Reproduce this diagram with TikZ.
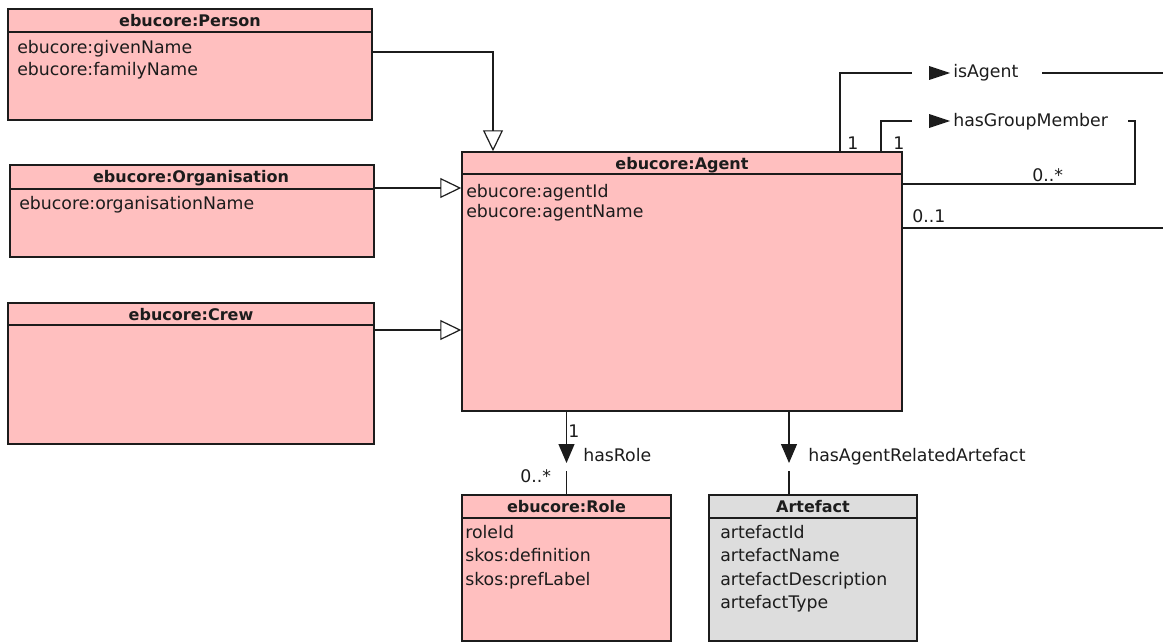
\documentclass[tikz,border=0pt]{standalone}
\usepackage{fontspec}
\newfontfamily\umlfont{DejaVu Sans}
\usetikzlibrary{arrows.meta,fit,calc}
\definecolor{clspink}{RGB}{255,191,191}
\definecolor{clsgray}{RGB}{221,221,221}
\definecolor{ink}{RGB}{28,28,28}
\begin{document}
\begin{tikzpicture}[x=0.75pt,y=-0.75pt,
  cls/.style={draw=ink, line width=1.1pt, fill=clspink, inner sep=0pt, rectangle},
  artcls/.style={cls, fill=clsgray},
  rule/.style={draw=ink, line width=1.1pt},
  title/.style={font=\umlfont\bfseries\fontsize{12}{14}\selectfont, anchor=base, inner sep=0pt, text=ink},
  attr/.style={font=\umlfont\fontsize{13}{15}\selectfont, anchor=base west, inner sep=0pt, text=ink},
  lbl/.style={attr},
  assoc/.style={draw=ink, line width=0.9pt},
  gen/.style={assoc, -{Triangle[open, length=15.75pt, width=15pt]}},
  nav/.style={assoc, -{Triangle[length=14.25pt, width=12pt]}}
]
\useasboundingbox (0,0) rectangle (1163,642);

% ---- class boxes ----
\node[cls, fit={(8,9) (372,120)}] (person) {};
\node[cls, fit={(10,165) (374,257)}] (org) {};
\node[cls, fit={(8,303) (374,444)}] (crew) {};
\node[cls, fit={(462,152) (902,411)}] (agent) {};
\node[cls, fit={(462,495) (671,641)}] (role) {};
\node[artcls, fit={(709,495) (917,641)}] (artefact) {};

% ---- header separators ----
\draw[rule] (person.west |- 0,32) -- (person.east |- 0,32);
\draw[rule] (org.west |- 0,189) -- (org.east |- 0,189);
\draw[rule] (crew.west |- 0,325) -- (crew.east |- 0,325);
\draw[rule] (agent.west |- 0,174) -- (agent.east |- 0,174);
\draw[rule] (role.west |- 0,518) -- (role.east |- 0,518);
\draw[rule] (artefact.west |- 0,518) -- (artefact.east |- 0,518);

% ---- class names ----
\node[title] (person-t) at (190,27) {ebucore:Person};
\node[title] (org-t) at (191,182.5) {ebucore:Organisation};
\node[title] (crew-t) at (191,320) {ebucore:Crew};
\node[title] (agent-t) at (682,169.5) {ebucore:Agent};
\node[title] (role-t) at (566.5,512) {ebucore:Role};
\node[title] (artefact-t) at (813,512) {Artefact};

% ---- attributes ----
\foreach \t [count=\i] in {ebucore:givenName, ebucore:familyName}
  \node[attr] (person-a\i) at (17,{53.5+22*(\i-1)}) {\t};
\node[attr] (org-a1) at (19,209.5) {ebucore:organisationName};
\foreach \t [count=\i] in {ebucore:agentId, ebucore:agentName}
  \node[attr] (agent-a\i) at (466,{197+20.5*(\i-1)}) {\t};
\foreach \t [count=\i] in {roleId, skos:definition, skos:prefLabel}
  \node[attr] (role-a\i) at (465,{538.5+23.3*(\i-1)}) {\t};
\foreach \t [count=\i] in {artefactId, artefactName, artefactDescription, artefactType}
  \node[attr] (artefact-a\i) at (720,{538.5+23.3*(\i-1)}) {\t};

% ---- generalisations ----
\draw[gen] (person.east |- 0,52) -| (493,0 |- agent.north);
\draw[gen] (org.east |- 0,188) -- (agent.west |- 0,188);
\draw[gen] (crew.east |- 0,330) -- (agent.west |- 0,330);

% ---- isAgent ----
\coordinate (isagent-in) at (912,73);
\coordinate (isagent-out) at (1042,73);
\coordinate (isagent-end) at (1163,73);
\draw[assoc] (840,0 |- agent.north) |- (isagent-in);
\fill[ink] (929,66) -- (950,73) -- (929,80) -- cycle;
\node[lbl] (isagent) at (953,78) {isAgent};
\draw[assoc] (isagent-out) -- (isagent-end);
\node[lbl] (isagent-m) at (847,149) {1};

% ---- hasGroupMember ----
\coordinate (hgm-in) at (912,121);
\coordinate (hgm-out) at (1128,121);
\draw[assoc] (881,0 |- agent.north) |- (hgm-in);
\fill[ink] (929,114) -- (950,121) -- (929,128) -- cycle;
\node[lbl] (hgm) at (953,126) {hasGroupMember};
\draw[assoc] (hgm-out) -| (1135,184) -- (agent.east |- 0,184);
\node[lbl] (hgm-m1) at (893,149) {1};
\node[lbl] (hgm-m2) at (1032,181) {0..*};

% ---- unnamed 0..1 association ----
\coordinate (zo-end) at (1163,228);
\draw[assoc] (agent.east |- 0,228) -- (zo-end);
\node[lbl] (zo-m) at (912,222) {0..1};

% ---- hasRole ----
\coordinate (hr-gap) at (566.5,471);
\draw[nav] (566.5,0 |- agent.south) -- (566.5,463);
\draw[assoc] (hr-gap) -- (hr-gap |- role.north);
\node[lbl] (hr-m1) at (568,437) {1};
\node[lbl] (hr) at (583,461) {hasRole};
\node[lbl] (hr-m2) at (520,482) {0..*};

% ---- hasAgentRelatedArtefact ----
\coordinate (har-gap) at (789,471);
\draw[nav] (789,0 |- agent.south) -- (789,463);
\draw[assoc] (har-gap) -- (har-gap |- artefact.north);
\node[lbl] (har) at (808,461) {hasAgentRelatedArtefact};
\end{tikzpicture}
\end{document}
